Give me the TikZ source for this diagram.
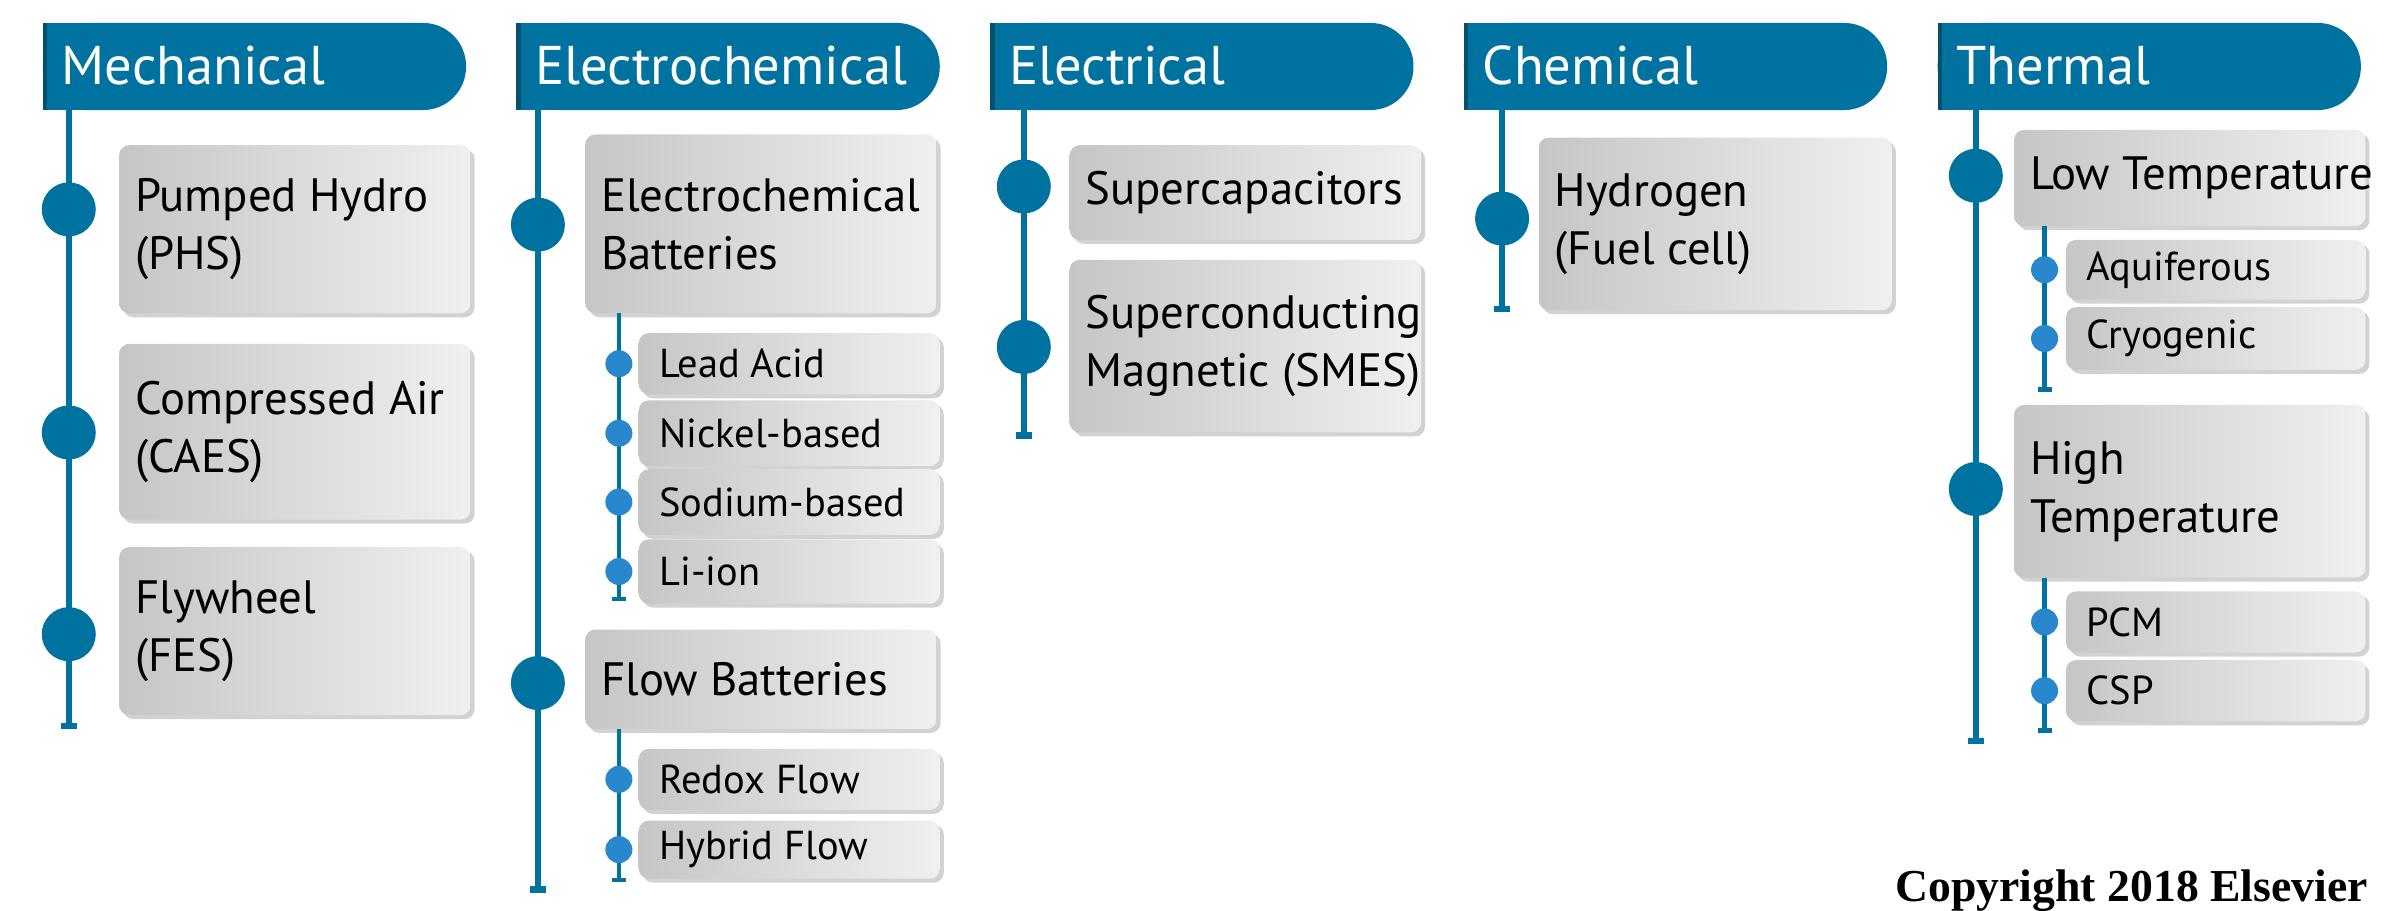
\documentclass[tikz,border=0pt]{standalone}
\usepackage{fontspec}
\setmainfont{PT Sans}
\newfontfamily\cpfont{Liberation Serif}
\usetikzlibrary{shadows}
\definecolor{hblue}{RGB}{0,114,160}
\definecolor{sblue}{RGB}{40,135,205}
\tikzset{
  hdr/.style={fill=hblue,rounded corners=0.43cm},
  hdrtxt/.style={text=white,font=\fontsize{15.5}{18}\selectfont,anchor=west,inner sep=0},
  boxsh/.style={left color=gray!45,right color=gray!12,rounded corners=0.1cm,drop shadow={shadow xshift=0.04cm,shadow yshift=-0.04cm,fill=gray!70}},
  bigtxt/.style={font=\fontsize{13.3}{16.5}\selectfont,anchor=west,align=left,inner sep=0},
  smtxt/.style={font=\fontsize{11.5}{14}\selectfont,anchor=west,inner sep=0},
  dot/.style={circle,fill=hblue,inner sep=0,minimum size=0.54cm},
  sdot/.style={circle,fill=sblue,inner sep=0,minimum size=0.27cm},
  mline/.style={draw=hblue,line width=1.8pt},
  sline/.style={draw=hblue,line width=1.3pt},
}
\newcommand\hd[4]{% name x1 x2 text
  \fill[hdr] (#2,15) rectangle (#3,72);
  \fill[hblue] (#2,15) rectangle (#2+40,72);
  \fill[hblue!70!black] (#2,15) rectangle (#2+3,72);
  \node[hdrtxt] (#1) at (#2+12,43) {#4};}
\newcommand\bx[6]{% name x1 y1 x2 y2 text
  \shade[boxsh] (#2,#3) rectangle (#4,#5);
  \node[bigtxt] (#1) at (#2+10,{(#3+#5)/2}) {#6};}
\begin{document}
\begin{tikzpicture}[x=0.01528cm,y=-0.01528cm]
\useasboundingbox (0,0) rectangle (1568,596);
% headers
\hd{h1}{28}{305}{Mechanical}
\hd{h2}{338}{615}{Electrochemical}
\hd{h3}{648}{925}{Electrical}
\hd{h4}{958}{1235}{Chemical}
\hd{h5}{1268}{1545}{Thermal}
% main lines
\coordinate (e1) at (45,475); \coordinate (t1) at (45,72);
\coordinate (e2) at (352,582); \coordinate (t2) at (352,72);
\coordinate (e3) at (670,285); \coordinate (t3) at (670,72);
\coordinate (e4) at (983,202); \coordinate (t4) at (983,72);
\coordinate (e5) at (1293,485); \coordinate (t5) at (1293,72);
\foreach \i in {1,...,5}{\draw[mline] (t\i) -- (e\i); \draw[mline] ([xshift=-0.08cm]e\i) -- ([xshift=0.08cm]e\i);}
% Mechanical
\bx{phs}{78}{95}{308}{205}{Pumped Hydro\\(PHS)}
\bx{caes}{78}{225}{308}{340}{Compressed Air\\(CAES)}
\bx{fes}{78}{358}{308}{468}{Flywheel\\(FES)}
\node[dot] (d1) at (45,137) {};
\node[dot] (d2) at (45,283) {};
\node[dot] (d3) at (45,415) {};
% Electrochemical
\bx{eb}{383}{88}{613}{205}{Electrochemical\\Batteries}
\node[dot] (d4) at (352,147) {};
\bx{fb}{383}{412}{613}{477}{Flow Batteries}
\node[dot] (d5) at (352,447) {};
\coordinate (s1a) at (405,205); \coordinate (s1b) at (405,392);
\coordinate (s2a) at (405,477); \coordinate (s2b) at (405,576);
\draw[sline] (s1a) -- (s1b); \draw[sline] (s2a) -- (s2b);
\draw[sline] ([xshift=-0.07cm]s1b) -- ([xshift=0.07cm]s1b);
\draw[sline] ([xshift=-0.07cm]s2b) -- ([xshift=0.07cm]s2b);
\foreach \n/\ya/\yb/\t in {la/218/258/Lead Acid,ni/262/305/Nickel-based,na/307/350/Sodium-based,li/353/395/Li-ion,rf/490/530/Redox Flow,hf/537/575/Hybrid Flow}{
  \shade[boxsh] (418,\ya) rectangle (615,\yb);
  \node[smtxt] (\n) at (431,{(\ya+\yb)/2}) {\t};
  \node[sdot] at (405,{(\ya+\yb)/2}) {};}
% Electrical
\bx{sc}{700}{95}{930}{157}{Supercapacitors}
\node[dot] (d6) at (670,122) {};
\bx{smes}{700}{170}{930}{283}{Superconducting\\Magnetic (SMES)}
\node[dot] (d7) at (670,227) {};
% Chemical
\bx{hy}{1007}{90}{1238}{203}{Hydrogen\\(Fuel cell)}
\node[dot] (d8) at (983,143) {};
% Thermal
\bx{lt}{1318}{85}{1548}{148}{Low Temperature}
\node[dot] (d9) at (1293,115) {};
\bx{ht}{1318}{265}{1548}{378}{High\\Temperature}
\node[dot] (d10) at (1293,320) {};
\coordinate (s3a) at (1338,148); \coordinate (s3b) at (1338,255);
\coordinate (s4a) at (1338,378); \coordinate (s4b) at (1338,478);
\draw[sline] (s3a) -- (s3b); \draw[sline] (s4a) -- (s4b);
\draw[sline] ([xshift=-0.07cm]s3b) -- ([xshift=0.07cm]s3b);
\draw[sline] ([xshift=-0.07cm]s4b) -- ([xshift=0.07cm]s4b);
\foreach \n/\ya/\yb/\t in {aq/157/196/Aquiferous,cr/201/242/Cryogenic,pcm/387/427/PCM,csp/432/472/CSP}{
  \shade[boxsh] (1352,\ya) rectangle (1548,\yb);
  \node[smtxt] (\n) at (1365,{(\ya+\yb)/2}) {\t};
  \node[sdot] at (1338,{(\ya+\yb)/2}) {};}
% copyright
\node[anchor=east,font=\cpfont\bfseries\fontsize{13}{15}\selectfont,inner sep=0] (cp) at (1550,583) {Copyright 2018 Elsevier};
\end{tikzpicture}
\end{document}
